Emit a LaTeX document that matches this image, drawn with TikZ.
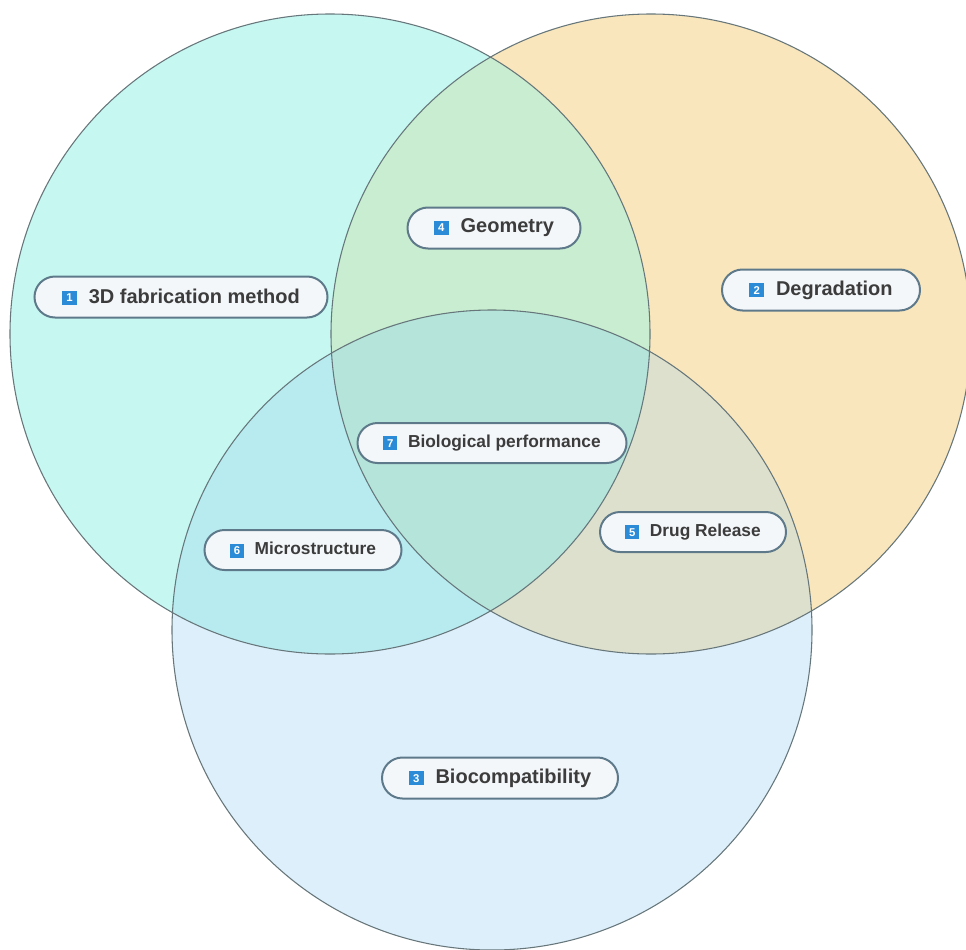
\documentclass[tikz,border=0pt]{standalone}
\usepackage{fontspec}
\setmainfont{Liberation Sans}
\usetikzlibrary{shapes.misc}
\definecolor{cA}{HTML}{C6F7F0}
\definecolor{cB}{HTML}{F9E6BC}
\definecolor{cC}{HTML}{DDEFFB}
\definecolor{cAB}{HTML}{C8EDD0}
\definecolor{cAC}{HTML}{B8EBF0}
\definecolor{cBC}{HTML}{DDE0CC}
\definecolor{cABC}{HTML}{B5E4DA}
\definecolor{ringline}{HTML}{66767A}
\definecolor{boxline}{HTML}{5E7A8A}
\definecolor{boxfill}{HTML}{F4F7FA}
\definecolor{txt}{HTML}{3C3C3C}
\definecolor{badgeblue}{HTML}{2C8BD6}
\newcommand\numbadge[2]{\raisebox{0.2pt}{\setlength{\fboxsep}{0pt}\colorbox{badgeblue}{\parbox[c][#1][c]{#1}{\centering\fontsize{8.5}{8.5}\selectfont\color{white}\bfseries #2}}}}
\begin{document}
\begin{tikzpicture}[x=0.75pt,y=-0.75pt,
  ring/.style={draw=ringline,line width=0.8pt},
  lab/.style={rounded rectangle,draw=boxline,line width=1.5pt,fill=boxfill,
    minimum height=30.75pt,inner sep=0pt,text=txt,
    font=\bfseries\fontsize{15}{18}\selectfont},
  slab/.style={lab,minimum height=30pt,font=\bfseries\fontsize{13}{16}\selectfont}]
\useasboundingbox (0,0) rectangle (966,949);
\clip (0,0) rectangle (966,949);
\def\Ca{(330,334) circle[radius=320]}
\def\Cb{(651,334) circle[radius=320]}
\def\Cc{(492,630) circle[radius=320]}
\fill[cA] \Ca;
\fill[cB] \Cb;
\fill[cC] \Cc;
\begin{scope}\clip \Ca; \fill[cAB] \Cb; \end{scope}
\begin{scope}\clip \Ca; \fill[cAC] \Cc; \end{scope}
\begin{scope}\clip \Cb; \fill[cBC] \Cc; \end{scope}
\begin{scope}\clip \Ca; \clip \Cb; \fill[cABC] \Cc; \end{scope}
\draw[ring] \Ca;
\draw[ring] \Cb;
\draw[ring] \Cc;
\node[lab,minimum width=219.75pt] (fab) at (181,297) {\numbadge{11pt}{1}\hspace{9pt}3D fabrication method};
\node[lab,minimum width=148.5pt] (deg) at (821,290) {\numbadge{11pt}{2}\hspace{9pt}Degradation};
\node[lab,minimum width=177pt] (bio) at (500,778) {\numbadge{11pt}{3}\hspace{9pt}Biocompatibility};
\node[lab,minimum width=129.75pt] (geo) at (494,228) {\numbadge{11pt}{4}\hspace{9pt}Geometry};
\node[slab,minimum width=139.5pt] (drug) at (693,532) {\numbadge{10.5pt}{5}\hspace{8pt}Drug Release};
\node[slab,minimum width=147.75pt] (micro) at (303,550) {\numbadge{10.5pt}{6}\hspace{8pt}Microstructure};
\node[slab,minimum width=201.75pt] (perf) at (492,443) {\numbadge{10.5pt}{7}\hspace{8pt}Biological performance};
\end{tikzpicture}
\end{document}
